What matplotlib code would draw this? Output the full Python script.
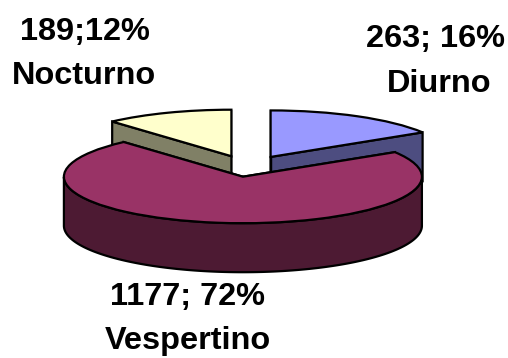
import numpy as np
import matplotlib
matplotlib.use("Agg")
import matplotlib.pyplot as plt

turnos = ["Diurno", "Vespertino", "Nocturno"]
alunos = [263, 1177, 189]
rotulos = ["263; 16%", "1177; 72%", "189;12%"]
cor_topo = ["#9999FF", "#993366", "#FFFFCC"]
cor_lado = ["#4D4D80", "#4D1A33", "#808066"]

W, H = 508, 358
CX, CY = 248, 167.5  # centre of the pie in pixels
RX, RY = 179, 46.5
DEPTH = 49 / RY
LW = 1.6

fig = plt.figure(figsize=(W / 100, H / 100), dpi=100)
ax = fig.add_axes([0, 0, 1, 1])

wedges, _ = ax.pie(alunos, explode=[0.26, 0.2, 0.26], startangle=90, counterclock=False,
                   colors=cor_topo, radius=1,
                   wedgeprops=dict(edgecolor="black", linewidth=LW))

# squash the pie, pie() forces equal aspect
ax.set_aspect("auto")
ax.set_xlim(-CX / RX, (W - CX) / RX)
ax.set_ylim((CY - H) / RY, CY / RY)
ax.axis("off")

# side walls, back slices first so the big slice covers them
z = {0: 1, 2: 1, 1: 3}
for i, w in enumerate(wedges):
    a1, a2 = np.radians(w.theta1), np.radians(w.theta2)
    x0, y0 = w.center
    w.set_zorder(z[i] + 1)
    # the two cut faces
    for a in (a1, a2):
        xr, yr = x0 + np.cos(a), y0 + np.sin(a)
        ax.fill([x0, xr, xr, x0], [y0, yr, yr - DEPTH, y0 - DEPTH],
                facecolor=cor_lado[i], edgecolor="black", linewidth=LW, zorder=z[i])
    # outer wall, only the part that faces the viewer
    ang = np.linspace(a1, a2, 400)
    ang = ang[np.sin(ang) <= 0]
    if len(ang) > 1:
        arc_x = x0 + np.cos(ang)
        arc_y = y0 + np.sin(ang)
        ax.fill(np.r_[arc_x, arc_x[::-1]], np.r_[arc_y, arc_y[::-1] - DEPTH],
                facecolor=cor_lado[i], edgecolor="black", linewidth=LW, zorder=z[i])

pos_rotulo = [(436, 39.5), (187, 297), (85, 32)]
pos_nome = [(439, 83.5), (188, 340.5), (83.5, 76)]
for txt, nome, p1, p2 in zip(rotulos, turnos, pos_rotulo, pos_nome):
    for s, (px, py) in ((txt, p1), (nome, p2)):
        fig.text(px / W, 1 - py / H, s, ha="center", va="center", fontsize=23.4,
                 fontweight="bold", family="Liberation Sans")

fig.savefig("out.png", dpi=100)
